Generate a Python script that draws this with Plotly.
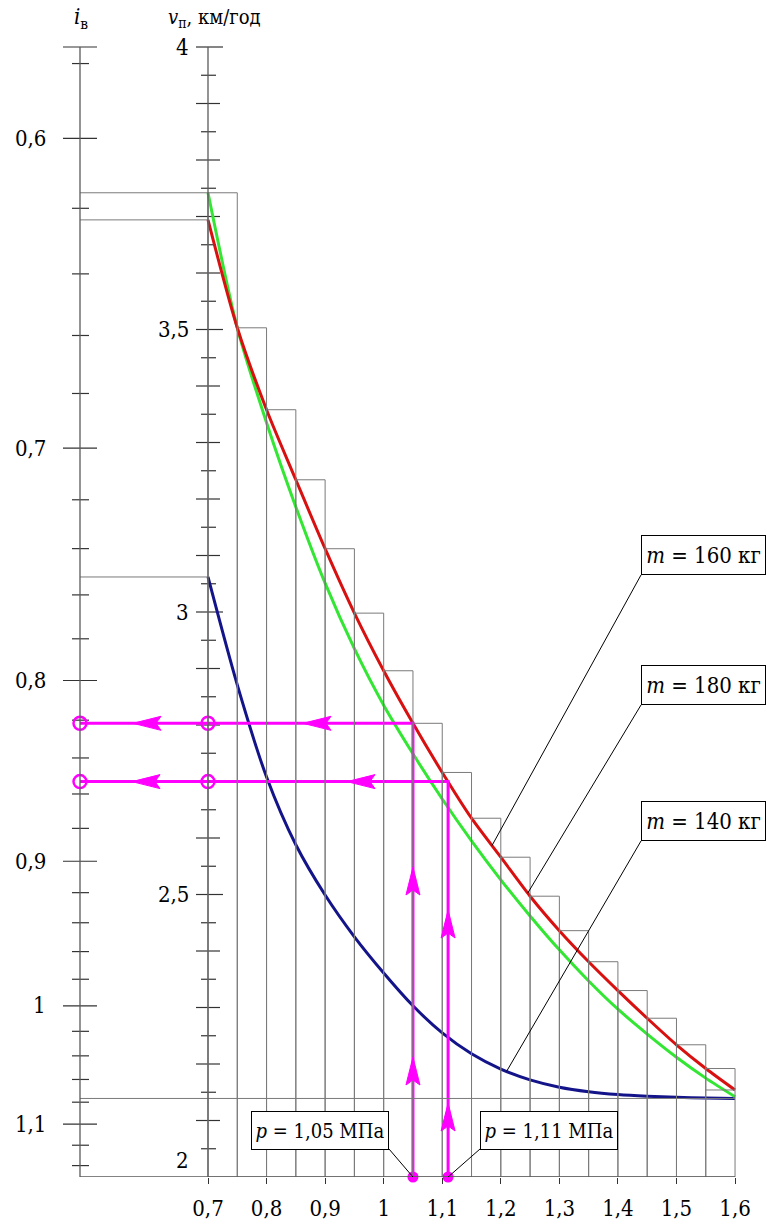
import numpy as np
import plotly.graph_objects as go

# ---------------------------------------------------------------- data
# tyre pressure p, MPa
p = [0.70, 0.75, 0.80, 0.85, 0.90, 0.95, 1.00, 1.05, 1.10, 1.15,
     1.20, 1.25, 1.30, 1.35, 1.40, 1.45, 1.50, 1.55, 1.60]

# travel speed v_п, km/h, for three masses
v_160 = [3.694, 3.503, 3.358, 3.234, 3.112, 2.998, 2.896, 2.803, 2.716, 2.635,
         2.566, 2.497, 2.436, 2.381, 2.330, 2.281, 2.234, 2.192, 2.154]
v_180 = [3.742, 3.503, 3.335, 3.186, 3.051, 2.935, 2.835, 2.749, 2.669, 2.595,
         2.526, 2.462, 2.402, 2.347, 2.297, 2.253, 2.212, 2.175, 2.142]
v_140 = [3.062, 2.871, 2.708, 2.588, 2.499, 2.425, 2.361, 2.303, 2.255, 2.218,
         2.191, 2.172, 2.159, 2.151, 2.146, 2.143, 2.141, 2.140, 2.139]

# worked examples
p_marked = [1.05, 1.11]
p_marked_labels = ["<i>p</i> = 1,05 МПа", "<i>p</i> = 1,11 МПа"]

# x axis ticks
x_ticks = [0.7, 0.8, 0.9, 1.0, 1.1, 1.2, 1.3, 1.4, 1.5, 1.6]
x_tick_labels = ["0,7", "0,8", "0,9", "1", "1,1", "1,2", "1,3", "1,4", "1,5", "1,6"]

# speed scale
v_major = [4.0, 3.5, 3.0, 2.5, 2.0]
v_major_labels = ["4", "3,5", "3", "2,5", "2"]
v_step = 0.05

# i_в scale (reciprocal of speed: v = K_IV / i)
K_IV = 2.303
i_major = [0.6, 0.7, 0.8, 0.9, 1.0, 1.1]
i_major_labels = ["0,6", "0,7", "0,8", "0,9", "1", "1,1"]
i_step = 0.02
i_first, i_last = 0.58, 1.14

mass_labels = ["<i>m</i> = 160 кг", "<i>m</i> = 180 кг", "<i>m</i> = 140 кг"]

# ---------------------------------------------------------------- geometry
W, H = 767, 1223
SX = 585.6          # px per MPa
SY = 565.0          # px per km/h
X0_PX, Y0_PX = 208, 47   # page position of (0.7 MPa, 4 km/h)


def xd(px):
    return 0.7 + (px - X0_PX) / SX


def yd(py):
    return 4.0 - (py - Y0_PX) / SY


X_I = xd(80)        # position of the i_в scale
X_V = 0.7           # position of the v_п scale
V_BOT = 2.0
V_TOP = 4.0

FONT = "DejaVu Serif Condensed, DejaVu Serif"
GRID = "#7a7a7a"
AXIS = "#5a5a5a"
MAG = "#ff00ff"
RED = "#d81010"
GREEN = "#33e633"
BLUE = "#14148a"

p_arr = np.array(p)
v160 = np.array(v_160)
v180 = np.array(v_180)
v140 = np.array(v_140)

fig = go.Figure()
shapes = []
annotations = []


def seg(x0, y0, x1, y1, color=GRID, width=1.0):
    shapes.append(dict(type="line", xref="x", yref="y", x0=x0, y0=y0, x1=x1, y1=y1,
                       line=dict(color=color, width=width), layer="above"))


# ---- staircase: each 0.05 MPa column is as tall as the higher curve at its left edge
step_top = np.maximum(v160, v180)
for k in range(len(p) - 1):
    shapes.append(dict(type="rect", xref="x", yref="y",
                       x0=p[k], x1=p[k + 1], y0=V_BOT, y1=step_top[k],
                       line=dict(color=GRID, width=1), fillcolor="rgba(0,0,0,0)",
                       layer="above"))
seg(p[-2], step_top[-1], p[-1], step_top[-1])

# ---- reference levels carried to the i_в scale
seg(X_I, v160[0], X_V, v160[0])
seg(X_I, v180[0], X_V, v180[0])
seg(X_I, v140[0], X_V, v140[0])
seg(X_I, v140[-1], p[-1], v140[-1])

# ---- axes lines
seg(X_I, V_BOT, p[-1], V_BOT, AXIS, 1.3)
seg(X_I, V_BOT, X_I, V_TOP, AXIS, 1.3)
seg(X_V, V_BOT, X_V, V_TOP, AXIS, 1.3)


def tick_trace(xc, vals, left_px, right_px):
    xs, ys = [], []
    for v in vals:
        xs += [xc - left_px / SX, xc + right_px / SX, None]
        ys += [v, v, None]
    return go.Scatter(x=xs, y=ys, mode="lines", line=dict(color="#333333", width=1.2),
                      hoverinfo="skip", showlegend=False, cliponaxis=False)


# v_п scale ticks
n_v = int(round((V_TOP - V_BOT) / v_step))
v_all = [round(V_BOT + v_step * k, 2) for k in range(1, n_v)]
v_tenth = [v for v in v_all if abs(v * 10 - round(v * 10)) < 1e-6 and v not in v_major]
v_half = [v for v in v_all if v not in v_tenth and v not in v_major]
fig.add_trace(tick_trace(X_V, [v for v in v_major if v > V_BOT], 12, 15))
fig.add_trace(tick_trace(X_V, v_tenth, 12, 12))
fig.add_trace(tick_trace(X_V, v_half, 7, 8))

# i_в scale ticks
n_i = int(round((i_last - i_first) / i_step))
i_all = [round(i_first + i_step * k, 2) for k in range(n_i + 1)]
i_minor = [i for i in i_all if i not in i_major]
fig.add_trace(tick_trace(X_I, [K_IV / i for i in i_major] + [V_TOP], 17, 17))
fig.add_trace(tick_trace(X_I, [K_IV / i for i in i_minor], 8, 9))

# tick labels
TICK_FONT = dict(family=FONT, size=22, color="black")
for v, lab in zip(v_major, v_major_labels):
    annotations.append(dict(x=xd(191), y=v, xref="x", yref="y", text=lab,
                            showarrow=False, xanchor="right", yanchor="middle",
                            yshift=17 if v == V_BOT else 0, font=TICK_FONT))
for i, lab in zip(i_major, i_major_labels):
    annotations.append(dict(x=xd(48), y=K_IV / i, xref="x", yref="y", text=lab,
                            showarrow=False, xanchor="right", yanchor="middle",
                            font=TICK_FONT))

# axis titles
annotations.append(dict(x=xd(72), y=yd(18), xref="x", yref="y",
                        text="<i>i</i><sub>в</sub>", showarrow=False,
                        xanchor="left", yanchor="middle",
                        font=dict(family=FONT, size=22, color="black")))
annotations.append(dict(x=xd(166), y=yd(18), xref="x", yref="y",
                        text="<i>v</i><sub>п</sub>, км/год", showarrow=False,
                        xanchor="left", yanchor="middle",
                        font=dict(family=FONT, size=20, color="black")))

# ---- curves
for vals, col in ((v140, BLUE), (v180, GREEN), (v160, RED)):
    fig.add_trace(go.Scatter(x=p, y=vals, mode="lines",
                             line=dict(color=col, width=3, shape="spline", smoothing=0.8),
                             hoverinfo="skip", showlegend=False))

# ---- worked examples: p -> v_п (m = 160 кг) -> i_в
v_hit = np.interp(p_marked, p_arr, v160)
for pm, vh in zip(p_marked, v_hit):
    fig.add_trace(go.Scatter(x=[pm, pm, X_I], y=[V_BOT, vh, vh], mode="lines",
                             line=dict(color=MAG, width=3), hoverinfo="skip",
                             showlegend=False, cliponaxis=False))
    fig.add_trace(go.Scatter(x=[X_V, X_I], y=[vh, vh], mode="markers",
                             marker=dict(symbol="circle-open", size=13, color=MAG,
                                         line=dict(color=MAG, width=2.5)),
                             hoverinfo="skip", showlegend=False, cliponaxis=False))
fig.add_trace(go.Scatter(x=p_marked, y=[V_BOT] * len(p_marked), mode="markers",
                         marker=dict(symbol="circle", size=11, color=MAG),
                         hoverinfo="skip", showlegend=False, cliponaxis=False))


def arrow(x, y, direction):
    L, Wd, N = 28, 7, 5
    if direction == "left":
        pts = [(x, y), (x + L / SX, y + Wd / SY), (x + (L - N) / SX, y),
               (x + L / SX, y - Wd / SY)]
    else:
        pts = [(x, y), (x + Wd / SX, y - L / SY), (x, y - (L - N) / SY),
               (x - Wd / SX, y - L / SY)]
    path = "M " + " L ".join(f"{a:.5f},{b:.5f}" for a, b in pts) + " Z"
    shapes.append(dict(type="path", xref="x", yref="y", path=path,
                       fillcolor=MAG, line=dict(color=MAG, width=1), layer="above"))


# arrowheads: leftward ones on the horizontal runs, upward ones on the verticals
left_tips = [[xd(133), xd(303)], [xd(132), xd(347)]]
up_tips = [[yd(867), yd(1057)], [yd(910), yd(1103)]]
for pm, vh, lt, ut in zip(p_marked, v_hit, left_tips, up_tips):
    for x in lt:
        arrow(x, vh, "left")
    for y in ut:
        arrow(pm, y, "up")

# ---- callouts
BOX = dict(showarrow=False, xref="x", yref="y", xanchor="center", yanchor="middle",
           bgcolor="white", bordercolor="black", borderwidth=1, borderpad=1,
           font=dict(family=FONT, size=22, color="black"))

# mass boxes: (centre px, box bottom-left px, curve, pressure where the leader lands)
mass_boxes = [((703.5, 555), (641, 575), v160, 1.185),
              ((703.5, 685), (641, 705), v160, 1.246),
              ((703.5, 821), (641, 841), v140, 1.21)]
for lab, (c, bl, curve, p_at) in zip(mass_labels, mass_boxes):
    seg(xd(bl[0]), yd(bl[1]), p_at, float(np.interp(p_at, p_arr, curve)), "black", 1)
    annotations.append(dict(BOX, x=xd(c[0]), y=yd(c[1]), text=lab, width=121, height=36))

p_boxes = [((320, 1130), (389, 1149)), ((549, 1130), (480, 1149))]
for pm, lab, (c, corner) in zip(p_marked, p_marked_labels, p_boxes):
    seg(xd(corner[0]), yd(corner[1]), pm, V_BOT, "black", 1)
    annotations.append(dict(BOX, x=xd(c[0]), y=yd(c[1]), text=lab, width=134, height=35,
                            font=dict(family=FONT, size=20, color="black")))

fig.update_layout(
    width=W, height=H,
    margin=dict(l=0, r=0, t=0, b=H - 1177),
    paper_bgcolor="white", plot_bgcolor="white",
    showlegend=False,
    font=dict(family=FONT),
    shapes=shapes,
    annotations=annotations,
    xaxis=dict(range=[xd(0), xd(W)], tickvals=x_ticks, ticktext=x_tick_labels,
               ticks="outside", ticklen=6, tickcolor="#333333", tickwidth=1.2,
               showgrid=False, zeroline=False, showline=False,
               tickfont=dict(family=FONT, size=22, color="black"),
               ticklabelstandoff=6, fixedrange=True),
    yaxis=dict(range=[V_BOT, yd(0)], visible=False, showgrid=False, zeroline=False,
               fixedrange=True),
)

fig.write_html("out.html")
